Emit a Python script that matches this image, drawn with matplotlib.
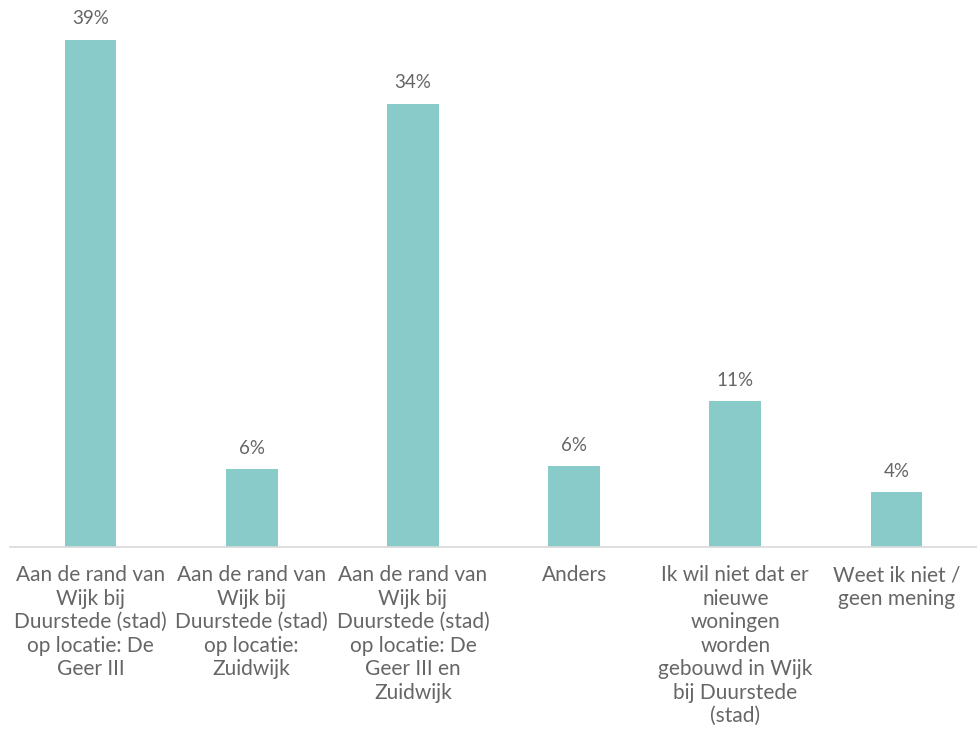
import matplotlib
matplotlib.use('Agg')
import matplotlib.pyplot as plt
import numpy as np

categories = [
    'Aan de rand van\nWijk bij\nDuurstede (stad)\nop locatie: De\nGeer III',
    'Aan de rand van\nWijk bij\nDuurstede (stad)\nop locatie:\nZuidwijk',
    'Aan de rand van\nWijk bij\nDuurstede (stad)\nop locatie: De\nGeer III en\nZuidwijk',
    'Anders',
    'Ik wil niet dat er\nnieuwe\nwoningen\nworden\ngebouwd in Wijk\nbij Duurstede\n(stad)',
    'Weet ik niet /\ngeen mening',
]
values = [39.0, 6.0, 34.1, 6.2, 11.2, 4.2]
labels = ['39%', '6%', '34%', '6%', '11%', '4%']

BAR_COLOR = '#89CBC8'
TEXT_COLOR = '#666666'

plt.rcParams['font.family'] = ['Lato', 'DejaVu Sans']

fig = plt.figure(figsize=(9.77, 7.29), dpi=100)
ax = fig.add_axes([10 / 977, (729 - 547) / 729, 967 / 977, 547 / 729])

x = np.arange(len(values))
bars = ax.bar(x, values, width=0.32, color=BAR_COLOR, zorder=2)

for b, lab in zip(bars, labels):
    ax.annotate(lab, (b.get_x() + b.get_width() / 2, b.get_height()),
                xytext=(0, 9), textcoords='offset points',
                ha='center', va='bottom', fontsize=13.5, color=TEXT_COLOR)

ax.set_xlim(-0.5, len(values) - 0.5)
ax.set_ylim(0, 39.0 * 547 / 507)
ax.set_xticks(x)
ax.set_xticklabels(categories, fontsize=15, color=TEXT_COLOR, linespacing=1.22,
                   va='top')
ax.tick_params(axis='x', length=0, pad=13)
ax.set_yticks([])
for s in ['top', 'left', 'right']:
    ax.spines[s].set_visible(False)
ax.spines['bottom'].set_color('#D9D9D9')
ax.spines['bottom'].set_linewidth(1.2)

plt.savefig('out.png', dpi=100)
plt.close()
